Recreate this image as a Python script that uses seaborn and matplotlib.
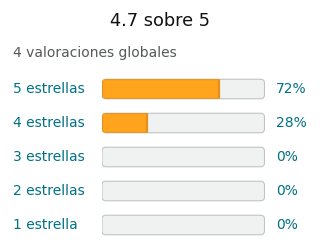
import matplotlib
matplotlib.use("Agg")
import matplotlib.pyplot as plt
import matplotlib.transforms as mtransforms
from matplotlib.patches import FancyBboxPatch
import seaborn as sns
import pandas as pd

title = "4.7 sobre 5"
subtitle = "4 valoraciones globales"
categories = ["5 estrellas", "4 estrellas", "3 estrellas", "2 estrellas", "1 estrella"]
percent = [72, 28, 0, 0, 0]
pct_labels = ["72%", "28%", "0%", "0%", "0%"]
full = [100, 100, 100, 100, 100]

sns.set_theme(style="white")
plt.rcParams['font.family'] = ['DejaVu Sans']

df = pd.DataFrame({"cat": categories, "pct": percent, "full": full})

W, H = 320, 252
fig = plt.figure(figsize=(W / 100, H / 100), dpi=100)
fig.patch.set_facecolor("white")

left, right = 101.5, 265
top_c, bot_c = 89.0, 225.0
step = (bot_c - top_c) / 4
ax_top = top_c - step / 2
ax_bot = bot_c + step / 2
ax = fig.add_axes([left / W, 1 - ax_bot / H, (right - left) / W, (ax_bot - ax_top) / H])

bw = 19.5 / step
sns.barplot(data=df, y="cat", x="full", orient="h", color="#F0F2F2",
            width=bw, ax=ax, saturation=1, edgecolor="#C0C4C4", linewidth=0.8)
n_bg = len(ax.patches)
sns.barplot(data=df, y="cat", x="pct", orient="h", color="#FFA41C",
            width=bw, ax=ax, saturation=1, edgecolor="#E3901D", linewidth=1.6)

xmin, xmax = -0.3, 100.3
ax.set_xlim(xmin, xmax)
ax.set_ylim(len(categories) - 0.5, -0.5)
ax.axis("off")

x_per_px = (xmax - xmin) / (right - left)
y_per_px = 1.0 / step
aspect = y_per_px / x_per_px

patches = list(ax.patches)
bg_patches = patches[:n_bg]
fg_patches = patches[n_bg:]

rounded = []
for p in bg_patches:
    x0, y0, w, h = p.get_x(), p.get_y(), p.get_width(), p.get_height()
    fc, ec, lw = p.get_facecolor(), p.get_edgecolor(), p.get_linewidth()
    p.remove()
    rp = FancyBboxPatch((x0, y0), w, h,
                        boxstyle="round,pad=0,rounding_size=%f" % (4 * x_per_px),
                        mutation_aspect=aspect,
                        facecolor=fc, edgecolor=ec, linewidth=lw, zorder=2)
    ax.add_patch(rp)
    rounded.append(rp)

# fill bars: same seaborn rectangles, clipped to the rounded container
for p, rp in zip(fg_patches, rounded):
    if p.get_width() <= 0:
        p.remove()
        continue
    p.set_zorder(3)
    p.set_clip_path(rp)

trans = mtransforms.blended_transform_factory(fig.transFigure, ax.transData)
for i, (c, t) in enumerate(zip(categories, pct_labels)):
    ax.text(13 / W, i, c, transform=trans, ha="left", va="center",
            fontsize=10, color="#007185", clip_on=False)
    ax.text(276 / W, i, t, transform=trans, ha="left", va="center",
            fontsize=10, color="#007185", clip_on=False)

fig.text(0.5, 1 - 21 / H, title, ha="center", va="center", fontsize=12.8, color="#111111")
fig.text(13 / W, 1 - 53 / H, subtitle, ha="left", va="center", fontsize=10, color="#565959")

fig.savefig("out.png", dpi=100, facecolor="white")
